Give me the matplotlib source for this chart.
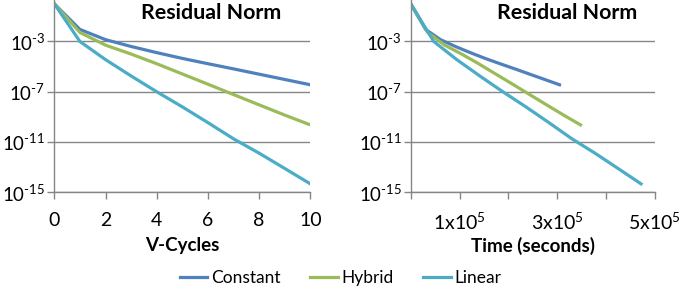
import math
import matplotlib
matplotlib.use('Agg')
import matplotlib.pyplot as plt
from matplotlib.ticker import FixedLocator, FuncFormatter, NullLocator

plt.rcParams['font.family'] = ['Lato', 'DejaVu Sans']
plt.rcParams['mathtext.fontset'] = 'custom'
plt.rcParams['mathtext.rm'] = 'Lato'

# Data
cycles = [0, 1, 2, 3, 4, 5, 6, 7, 8, 9, 10]
res_constant = [1, 9.1e-3, 1.4e-3, 4.0e-4, 1.3e-4, 4.5e-5, 1.7e-5, 6.6e-6, 2.5e-6, 9.5e-7, 3.6e-7]
res_hybrid = [1, 5.2e-3, 5.1e-4, 1.0e-4, 1.7e-5, 2.6e-6, 4.0e-7, 6.0e-8, 9.1e-9, 1.4e-9, 2.3e-10]
res_linear = [1, 1.0e-3, 3.6e-5, 1.8e-6, 1.0e-7, 6.3e-9, 3.5e-10, 1.8e-11, 1.3e-12, 7.9e-14, 4.7e-15]
time_constant = [0, 30500, 61000, 91500, 122000, 152500, 183000, 213500, 244000, 274500, 305000]
time_hybrid = [0, 34800, 69600, 104400, 139200, 174000, 208800, 243600, 278400, 313200, 348000]
time_linear = [0, 47200, 94400, 141600, 188800, 236000, 283200, 330400, 377600, 424800, 472000]

names = ['Constant', 'Hybrid', 'Linear']
colors = ['#4F81BD', '#9BBB59', '#4BACC6']
grey = '#868686'

fig = plt.figure(figsize=(6.82, 2.90), dpi=100)
ax1 = fig.add_axes([54.3/682, 1-192.3/290, 256/682, 192.3/290])
ax2 = fig.add_axes([410.7/682, 1-192.3/290, 244/682, 192.3/290])

def exp_fmt(v, pos):
    e = int(round(math.log10(v)))
    # short hyphen like the original instead of a wide minus sign
    return r'$\mathregular{10^{\text{-}%d}}$' % abs(e)

for ax in (ax1, ax2):
    ax.set_yscale('log')
    ax.set_ylim(1e-15, 10**0.3)
    ax.yaxis.set_major_locator(FixedLocator([1e-15, 1e-11, 1e-7, 1e-3]))
    ax.yaxis.set_minor_locator(NullLocator())
    ax.yaxis.set_major_formatter(FuncFormatter(exp_fmt))
    ax.grid(axis='y', color=grey, lw=1)
    ax.set_axisbelow(True)
    for s in ['top', 'right']:
        ax.spines[s].set_visible(False)
    for s in ['left', 'bottom']:
        ax.spines[s].set_color(grey)
        ax.spines[s].set_linewidth(1)
    ax.tick_params(direction='out', length=5, width=1, color=grey, labelsize=14)
    ax.tick_params(axis='y', pad=1.5, labelsize=13.5)
    ax.tick_params(axis='x', pad=9)

res = [res_constant, res_hybrid, res_linear]
times = [time_constant, time_hybrid, time_linear]
for r, t, c, n in zip(res, times, colors, names):
    ax1.plot(cycles, r, color=c, lw=2.3, label=n)
    ax2.plot(t, r, color=c, lw=2.3)

ax1.set_xlim(0, 10)
ax1.set_xticks([0, 2, 4, 6, 8, 10])

ax2.set_xlim(0, 5e5)
ax2.set_xticks([0, 1e5, 2e5, 3e5, 4e5, 5e5])
ax2.set_xticklabels(['', r'$\mathregular{1x10^{5}}$', '', r'$\mathregular{3x10^{5}}$', '',
                     r'$\mathregular{5x10^{5}}$'])

fig.text(211/682, 1-13/290, 'Residual Norm', ha='center', va='center',
         fontsize=15.4, fontweight='bold')
fig.text(567/682, 1-13/290, 'Residual Norm', ha='center', va='center',
         fontsize=15.4, fontweight='bold')
fig.text(182/682, 1-246/290, 'V-Cycles', ha='center', va='center',
         fontsize=13.5, fontweight='bold')
fig.text(533/682, 1-246/290, 'Time (seconds)', ha='center', va='center',
         fontsize=13.5, fontweight='bold')

fig.legend(loc='center', bbox_to_anchor=(0.499, 1-278/290), ncol=3, frameon=False,
           fontsize=12.5, handlelength=1.6, handletextpad=0.2, columnspacing=1.7)

fig.savefig('out.png', dpi=100)
